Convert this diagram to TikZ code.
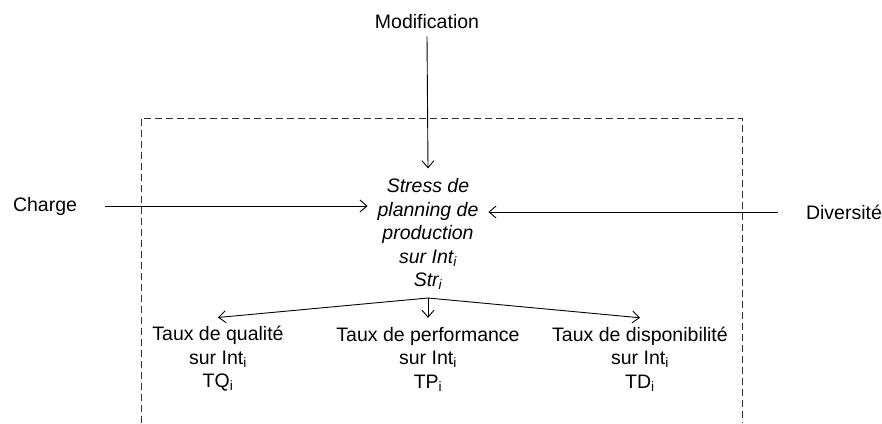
\documentclass[tikz,border=0pt]{standalone}
\usepackage{fontspec}
\setmainfont{Liberation Sans}
\usetikzlibrary{arrows.meta}

\begin{document}
\begin{tikzpicture}[x=1pt,y=-1pt,
  every node/.style={inner sep=2pt,align=center,font=\fontsize{19.5}{23.5}\selectfont},
  link/.style={draw=black,line width=0.9pt,-{Straight Barb[length=7pt,width=12pt,line width=0.9pt]}},
  frame/.style={draw=black!80,line width=0.9pt,dash pattern=on 7pt off 4pt}]
\useasboundingbox (0,0) rectangle (882,423);
\draw [frame] (141,423) -- (141,118) -- (742,118) -- (742,423);
\node (modif) at (427,22) {Modification};
\node (charge) at (45,206) {Charge};
\node (divers) at (844,212) {Diversité};
\node [outer sep=8pt] (stress) at (428,234) {\itshape Stress de\\\itshape planning de\\\itshape production\\\itshape sur Int\textsubscript{i}\\\itshape Str\textsubscript{i}};
\node [outer sep=7pt] (tq) at (218,359) {Taux de qualité\\sur Int\textsubscript{i}\\TQ\textsubscript{i}};
\node [outer sep=7pt] (tp) at (428,359) {Taux de performance\\sur Int\textsubscript{i}\\TP\textsubscript{i}};
\node [outer sep=7pt] (td) at (640,359) {Taux de disponibilité\\sur Int\textsubscript{i}\\TD\textsubscript{i}};
\coordinate (split) at (428,298);
\draw [link] (modif.south) ++(0,5) -- (stress.north);
\draw [link,shorten <=26pt] (charge.east) -- (charge.east -| stress.west);
\draw [link,shorten <=26pt] (divers.west) -- (divers.west -| stress.east);
\draw [link] (split) -- (tq.north);
\draw [link] (split) -- (tp.north);
\draw [link] (split) -- (td.north);
\end{tikzpicture}
\end{document}
